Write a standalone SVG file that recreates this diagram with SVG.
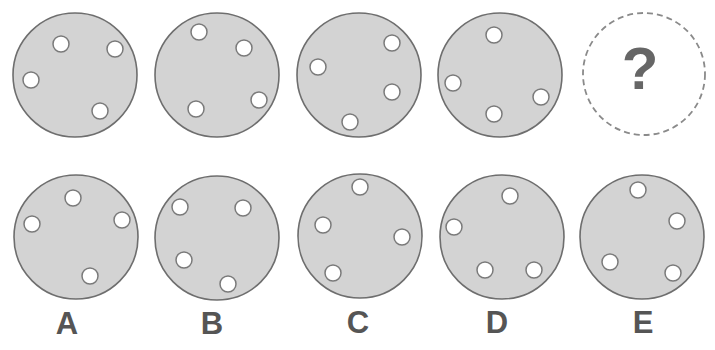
<svg xmlns="http://www.w3.org/2000/svg" width="715" height="350" viewBox="0 0 715 350">
<style>
.disc{fill:#d3d3d3;stroke:#6e6e6e;stroke-width:1.6}
.hole{fill:#ffffff;stroke:#7a7a7a;stroke-width:1.5}
.dash{fill:none;stroke:#8a8a8a;stroke-width:1.8;stroke-dasharray:6 4}
.lbl{font-family:"Liberation Sans",Arial,sans-serif;font-weight:bold;font-size:31px;fill:#555;text-anchor:middle}
.q{font-family:"Liberation Sans",Arial,sans-serif;font-weight:bold;font-size:60px;fill:#666;text-anchor:middle}
</style>
<rect width="715" height="350" fill="#ffffff"/>
<g id="top1">
<circle class="disc" cx="75" cy="75" r="62"/>
<circle class="hole" cx="61" cy="44" r="8"/>
<circle class="hole" cx="115" cy="49" r="8"/>
<circle class="hole" cx="31" cy="80" r="8"/>
<circle class="hole" cx="100" cy="111" r="8"/>
</g>
<g id="top2">
<circle class="disc" cx="217" cy="75" r="62"/>
<circle class="hole" cx="199" cy="32" r="8"/>
<circle class="hole" cx="244" cy="48" r="8"/>
<circle class="hole" cx="196" cy="109" r="8"/>
<circle class="hole" cx="259" cy="100" r="8"/>
</g>
<g id="top3">
<circle class="disc" cx="359" cy="75" r="62"/>
<circle class="hole" cx="392" cy="43" r="8"/>
<circle class="hole" cx="318" cy="67" r="8"/>
<circle class="hole" cx="392" cy="92" r="8"/>
<circle class="hole" cx="350" cy="122" r="8"/>
</g>
<g id="top4">
<circle class="disc" cx="500" cy="75" r="62"/>
<circle class="hole" cx="494" cy="35" r="8"/>
<circle class="hole" cx="453" cy="83" r="8"/>
<circle class="hole" cx="494" cy="114" r="8"/>
<circle class="hole" cx="541" cy="97" r="8"/>
</g>
<g id="top5">
<circle class="dash" cx="644" cy="74" r="61"/>
<text class="q" x="640" y="89">?</text>
</g>
<g id="optA">
<circle class="disc" cx="76" cy="237" r="62"/>
<circle class="hole" cx="73" cy="198" r="8"/>
<circle class="hole" cx="32" cy="224" r="8"/>
<circle class="hole" cx="122" cy="220" r="8"/>
<circle class="hole" cx="90" cy="276" r="8"/>
<text class="lbl" x="67" y="334">A</text>
</g>
<g id="optB">
<circle class="disc" cx="217" cy="238" r="62"/>
<circle class="hole" cx="180" cy="207" r="8"/>
<circle class="hole" cx="243" cy="208" r="8"/>
<circle class="hole" cx="184" cy="260" r="8"/>
<circle class="hole" cx="228" cy="284" r="8"/>
<text class="lbl" x="212" y="334">B</text>
</g>
<g id="optC">
<circle class="disc" cx="360" cy="236" r="62"/>
<circle class="hole" cx="360" cy="187" r="8"/>
<circle class="hole" cx="323" cy="225" r="8"/>
<circle class="hole" cx="402" cy="237" r="8"/>
<circle class="hole" cx="333" cy="273" r="8"/>
<text class="lbl" x="358" y="333">C</text>
</g>
<g id="optD">
<circle class="disc" cx="502" cy="237" r="62"/>
<circle class="hole" cx="510" cy="196" r="8"/>
<circle class="hole" cx="454" cy="227" r="8"/>
<circle class="hole" cx="485" cy="270" r="8"/>
<circle class="hole" cx="534" cy="270" r="8"/>
<text class="lbl" x="497" y="333">D</text>
</g>
<g id="optE">
<circle class="disc" cx="642" cy="237" r="62"/>
<circle class="hole" cx="638" cy="190" r="8"/>
<circle class="hole" cx="677" cy="221" r="8"/>
<circle class="hole" cx="610" cy="262" r="8"/>
<circle class="hole" cx="673" cy="273" r="8"/>
<text class="lbl" x="643" y="333">E</text>
</g>
<g id="connectors"/>
</svg>
